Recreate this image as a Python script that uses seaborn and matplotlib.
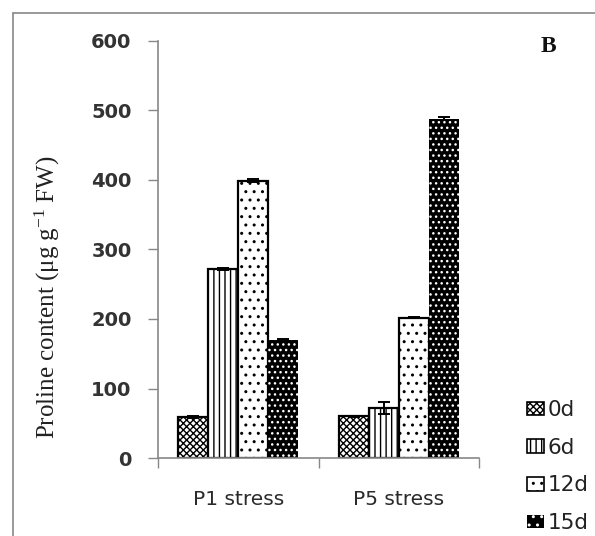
import matplotlib
matplotlib.use("Agg")
import matplotlib.pyplot as plt
import seaborn as sns
import pandas as pd
from matplotlib.patches import Patch
from matplotlib.lines import Line2D

groups = ["P1 stress", "P5 stress"]
days = ["0d", "6d", "12d", "15d"]
values = {
    "0d": [59, 60],
    "6d": [272, 72],
    "12d": [399, 202],
    "15d": [170, 488],
}
errors = {
    "0d": [2, 1],
    "6d": [2, 8],
    "12d": [2, 1],
    "15d": [1, 2],
}
yticks = [0, 100, 200, 300, 400, 500, 600]

rows = []
for d in days:
    for g, v in zip(groups, values[d]):
        rows.append({"group": g, "day": d, "value": v})
df = pd.DataFrame(rows)

sns.set_theme(style="white")
plt.rcParams["hatch.linewidth"] = 1.0
plt.rcParams["mathtext.fontset"] = "custom"
plt.rcParams["mathtext.rm"] = "Liberation Serif"
plt.rcParams["mathtext.it"] = "Liberation Serif:italic"
plt.rcParams["mathtext.bf"] = "Liberation Serif:bold"

fig = plt.figure(figsize=(5.95, 5.36), dpi=100)
ax = fig.add_axes([158/595, 1-458/536, (479-158)/595, (458-41)/536])

sns.barplot(data=df, x="group", y="value", hue="day", order=groups,
            hue_order=days, errorbar=None, width=0.75, ax=ax,
            palette=["white"]*4, legend=False)

styles = {
    "0d": dict(face="white", edge="black", hatch="xxxxx"),
    "6d": dict(face="white", edge="black", hatch="|||"),
    "12d": dict(face="white", edge="black", hatch=".."),
    "15d": dict(face="black", edge="white", hatch="..."),
}
for cont, d in zip(ax.containers, days):
    st = styles[d]
    xs, ys = [], []
    for bar in cont.patches:
        bar.set_facecolor(st["face"])
        bar.set_edgecolor(st["edge"])
        bar.set_hatch(st["hatch"])
        bar.set_linewidth(1.6 if d != "15d" else 0)
        xs.append(bar.get_x() + bar.get_width()/2)
        ys.append(bar.get_height())
    ax.errorbar(xs, ys, yerr=errors[d], fmt="none",
                ecolor="black", elinewidth=1.4, capsize=4, capthick=1.4, zorder=5)

ax.set_ylim(0, 600)
ax.set_xlim(-0.5, 1.5)
ax.set_yticks(yticks)
ax.set_yticklabels([str(t) for t in yticks], fontfamily="DejaVu Sans",
                   fontweight="bold", fontsize=14, color="#333333")
ax.set_xticks([0, 1])
ax.set_xticklabels(groups, fontfamily="DejaVu Sans", fontsize=14.5, color="#2a2a2a")
ax.tick_params(axis="y", which="both", left=True, length=7, width=1,
               color="#888888", pad=12, direction="out")
ax.tick_params(axis="x", which="major", bottom=False, pad=17)
# category boundary ticks
ax.set_xticks([-0.5, 0.5, 1.5], minor=True)
ax.tick_params(axis="x", which="minor", bottom=True, length=7, width=1,
               color="#888888", direction="out")

for s in ["top", "right"]:
    ax.spines[s].set_visible(False)
for s in ["left", "bottom"]:
    ax.spines[s].set_color("#888888")
    ax.spines[s].set_linewidth(1.2)

ax.set_xlabel("")
ax.set_ylabel("")
fig.text(47/595, 1-297/536, "Proline content (μg g$^{\\mathregular{-1}}$ FW)",
         fontfamily="Liberation Serif", fontsize=18, color="#222222",
         rotation=90, ha="center", va="center")

fig.text(548/595, 1-46/536, "B", fontfamily="Liberation Serif",
         fontweight="bold", fontsize=17, ha="center", va="center", color="#111111")

legend_hatch = {"0d": "xxxxx", "6d": "|||", "12d": "..", "15d": ".."}
handles = [Patch(facecolor=styles[d]["face"], edgecolor=styles[d]["edge"],
                 hatch=legend_hatch[d],
                 linewidth=(1.2 if d != "15d" else 0),
                 label=d) for d in days]
leg = fig.legend(handles=handles, loc="upper left",
                 bbox_to_anchor=(527/595, 1-400/536), frameon=False,
                 prop={"family": "DejaVu Sans", "size": 15.5}, handlelength=0.8,
                 handleheight=0.6, handletextpad=0.15, labelspacing=0.82,
                 borderaxespad=0, borderpad=0)
for t in leg.get_texts():
    t.set_color("#222222")
for h, d in zip(leg.legend_handles, days):
    if d != "15d":
        h.set_edgecolor("black")

# outer frame
fig.add_artist(Line2D([13/595, 13/595], [0, 1-13/536], transform=fig.transFigure,
                      color="#888888", linewidth=1.2))
fig.add_artist(Line2D([13/595, 1], [1-13/536, 1-13/536], transform=fig.transFigure,
                      color="#888888", linewidth=1.2))

fig.savefig("out.png", dpi=100)
